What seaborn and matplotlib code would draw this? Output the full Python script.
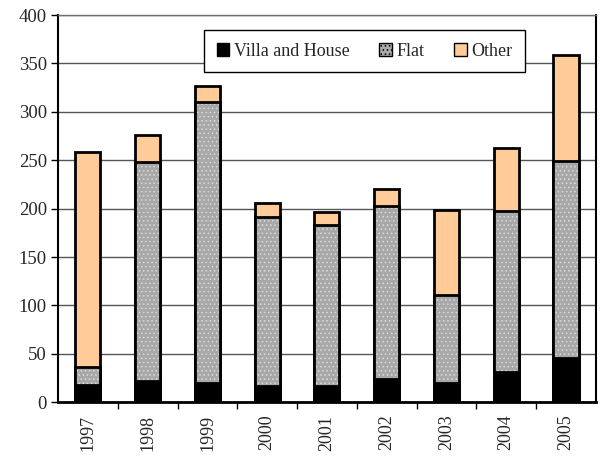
import numpy as np
import pandas as pd
import matplotlib
matplotlib.use("Agg")
import matplotlib.pyplot as plt
import seaborn as sns
from matplotlib.patches import Patch

years = ["1997", "1998", "1999", "2000", "2001", "2002", "2003", "2004", "2005"]
villa = [18, 22, 20, 17, 17, 24, 20, 31, 46]
flat = [18, 226, 290, 174, 166, 179, 91, 167, 203]
other = [222, 28, 17, 15, 13, 17, 88, 65, 110]
series_names = ["Villa and House", "Flat", "Other"]
yticks = [0, 50, 100, 150, 200, 250, 300, 350, 400]

sns.set_theme(style="white")
plt.rcParams["font.family"] = ["Liberation Serif", "DejaVu Serif"]
plt.rcParams["hatch.linewidth"] = 0.6

fig = plt.figure(figsize=(6.01, 4.57), dpi=100)
ax = fig.add_axes([0.0965, 0.120, 0.895, 0.847])

df = pd.DataFrame({"year": years, "villa": villa, "flat": flat, "other": other})
df["c_flat"] = df["villa"] + df["flat"]
df["c_total"] = df["c_flat"] + df["other"]

w = 0.42
sns.barplot(data=df, x="year", y="c_total", color="#ffcc99", saturation=1,
            width=w, edgecolor="black", linewidth=2, ax=ax, zorder=3)
# Flat fill with dotted texture (no outline)
sns.barplot(data=df, x="year", y="c_flat", color="#a8a8a8", saturation=1,
            width=w, edgecolor="#dadada", linewidth=0, hatch="....", ax=ax, zorder=4)
# Flat outline
sns.barplot(data=df, x="year", y="c_flat", color="none", saturation=1,
            width=w, edgecolor="black", linewidth=2, ax=ax, zorder=5)
sns.barplot(data=df, x="year", y="villa", color="black", saturation=1,
            width=w, edgecolor="black", linewidth=2, ax=ax, zorder=6)

ax.set_ylim(0, 400)
ax.set_xlim(-0.5, len(years) - 0.5)
ax.set_yticks(yticks)
ax.set_yticklabels([str(t) for t in yticks], fontsize=13.5)
ax.set_xticks(range(len(years)))
ax.set_xticklabels(years, rotation=90, fontsize=13)
ax.tick_params(axis="x", which="major", length=0, pad=9)
ax.set_xticks(np.arange(0.5, len(years) - 0.5, 1), minor=True)
ax.tick_params(axis="x", which="minor", length=5, direction="out", width=1, color="black", bottom=True)
ax.tick_params(axis="y", length=5, direction="out", width=1, color="black", left=True, pad=3)
ax.set_xlabel("")
ax.set_ylabel("")
ax.yaxis.grid(True, color="#555555", linewidth=1)
ax.set_axisbelow(True)
for s in ax.spines.values():
    s.set_color("black")
    s.set_linewidth(1.5)
ax.spines["bottom"].set_linewidth(2)
ax.spines["top"].set_color("#707070")
ax.spines["top"].set_linewidth(1)

handles = [
    Patch(facecolor="black", edgecolor="black", label=series_names[0]),
    Patch(facecolor="#a8a8a8", edgecolor="black", hatch="....", label=series_names[1]),
    Patch(facecolor="#ffcc99", edgecolor="black", label=series_names[2]),
]
leg = ax.legend(handles=handles, loc="upper center", bbox_to_anchor=(0.570, 0.985), ncol=3,
                fontsize=13, frameon=True, fancybox=False, framealpha=1,
                edgecolor="black", handlelength=0.7, handleheight=0.7,
                handletextpad=0.25, columnspacing=1.65, borderpad=0.7)
leg.get_frame().set_linewidth(1)
leg.set_zorder(10)

fig.savefig("out.png", dpi=100)
